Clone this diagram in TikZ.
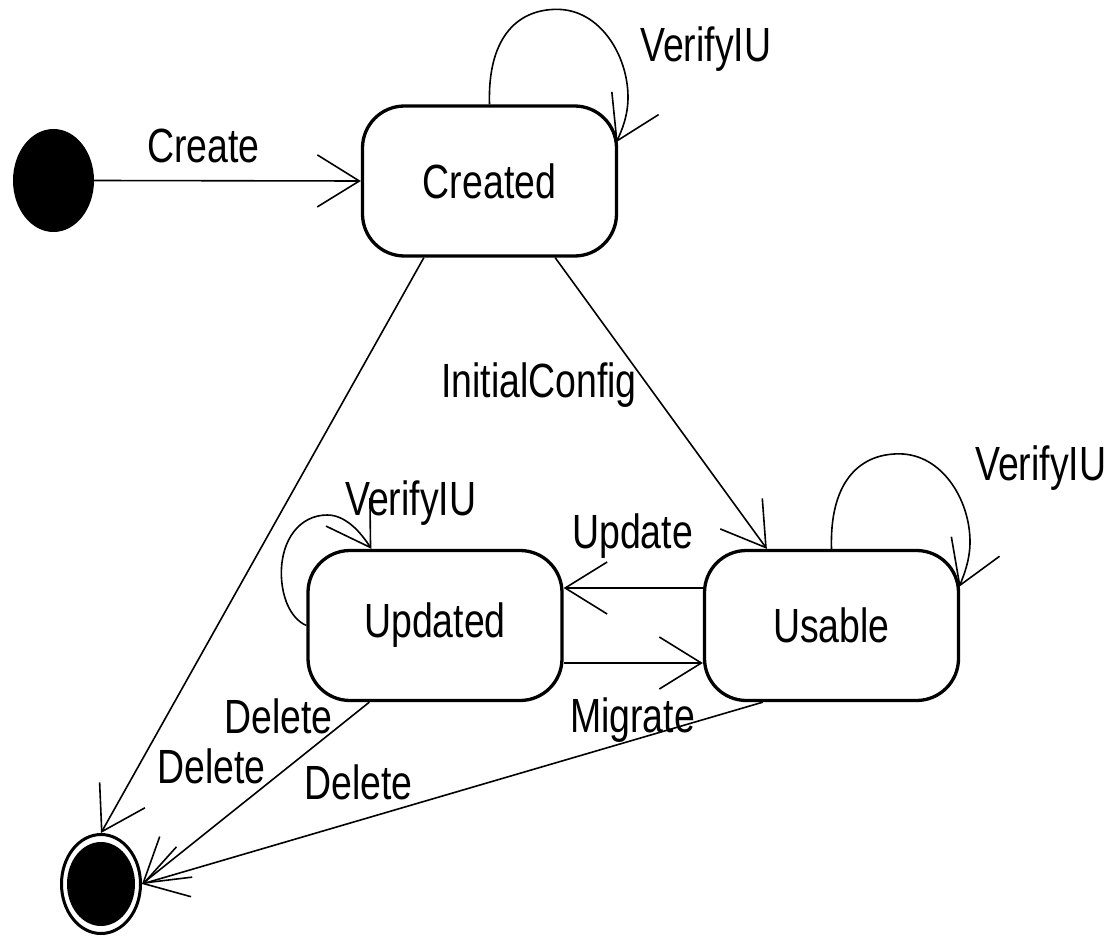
\documentclass[tikz,border=0pt]{standalone}
\usepackage{fontspec}
\setmainfont{Liberation Sans}[FakeStretch=0.78]
\usetikzlibrary{arrows.meta,shapes.geometric,calc}

% self transition above a state, starting at its north anchor
\newcommand\toploop[2]{%
  \draw[conn] (#1.north)
    .. controls ($(#1.north)+(-2,-64)$) and ($(#1.north)+(25.5,-95)$) .. ($(#1.north)+(67.5,-95)$)
    .. controls ($(#1.north)+(110.5,-95)$) and ($(#1.north)+(138.5,-49)$) .. ($(#1.north)+(138.5,-7)$)
    .. controls ($(#1.north)+(138.5,11)$) and ($(#1.north)+(132.5,26)$) .. ($(#1.north east)+(#2,38)$);}

\begin{document}
\begin{tikzpicture}[x=1pt,y=-1pt,
  font=\fontsize{48}{52}\selectfont,
  state/.style={draw, line width=3.3pt, rectangle, rounded corners=42pt,
    minimum width=254pt, minimum height=150pt, inner sep=0pt},
  conn/.style={line width=1.6pt, -{Straight Barb[length=42pt,width=52pt,line width=1.6pt]}},
  lbl/.style={inner sep=0pt, anchor=base west}]
\useasboundingbox (0,0) rectangle (1113,936);

% states
\node[ellipse, fill=black, minimum width=81pt, minimum height=103pt, inner sep=0pt] (init) at (53.5,180.5) {};
\node[state] (created) at (489.5,181) {Created};
\node[state] (updated) at (435,625.5) {Updated};
\node[state] (usable) at (831.5,625.5) {Usable};
\node[ellipse, draw, line width=3pt, minimum width=79pt, minimum height=99pt, inner sep=0pt] (final) at (101,884) {};
\fill (final.center) ellipse [x radius=34pt, y radius=42pt];

% transitions
\draw[conn] (init.east) -- (created.west);
\toploop{created}{-2}
\toploop{usable}{-1}
\draw[conn] ($(created.south east)+(-63,0)$) -- ($(usable.north west)+(64,0)$);
\draw[conn] ($(usable.west)+(0,-37.5)$) -- ($(updated.east)+(0,-37.5)$);
\draw[conn] ($(updated.east)+(0,37.5)$) -- ($(usable.west)+(0,37.5)$);
\draw[conn] (updated.west)
  .. controls ($(updated.west)+(-17,-7.5)$) and ($(updated.west)+(-25,-30.5)$) .. ($(updated.west)+(-25,-52.5)$)
  .. controls ($(updated.west)+(-25,-85.5)$) and ($(updated.west)+(-7,-110.5)$) .. ($(updated.west)+(21,-110.5)$)
  .. controls ($(updated.west)+(38,-110.5)$) and ($(updated.west)+(53,-95.5)$) .. ($(updated.north west)+(65,0)$);
\draw[conn] ($(created.south west)+(63,0)$) -- (final.north);
\draw[conn] ($(updated.south west)+(63,0)$) -- (final.east);
\draw[conn] ($(usable.south west)+(60,0)$) -- (final.east);

% labels
\node[lbl] (lcreate) at (147,163) {Create};
\node[lbl] (lverify1) at (640,62) {VerifyIU};
\node[lbl] (linit) at (441,397) {InitialConfig};
\node[lbl] (lverify2) at (345,515) {VerifyIU};
\node[lbl] (lupdate) at (572,548) {Update};
\node[lbl] (lverify3) at (975,480) {VerifyIU};
\node[lbl] (lmigrate) at (570,732) {Migrate};
\node[lbl] (ldelete1) at (224,733) {Delete};
\node[lbl] (ldelete2) at (157,783) {Delete};
\node[lbl] (ldelete3) at (304,799) {Delete};
\end{tikzpicture}
\end{document}
